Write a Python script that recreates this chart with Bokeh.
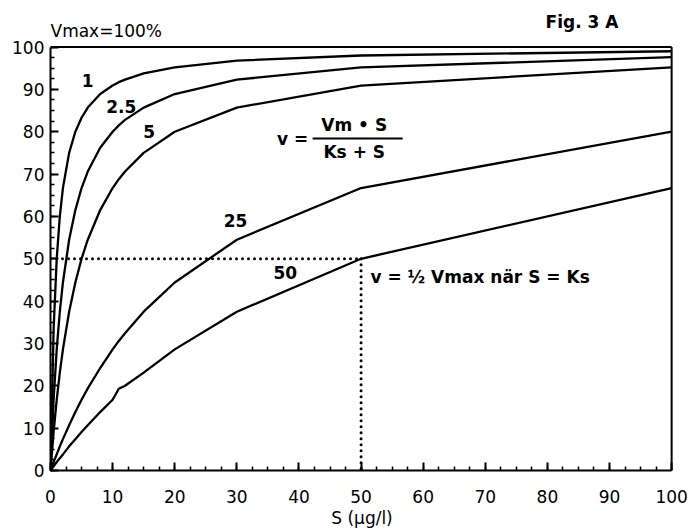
from bokeh.plotting import figure
from bokeh.models import Label, Range1d, FixedTicker
from bokeh.embed import file_html
from bokeh.resources import INLINE

# substrate concentration S (µg/l)
s_values = [0, 0.5, 1, 1.5, 2, 3, 4, 5, 6, 8, 10, 11, 12, 15, 20, 30, 50, 100]
# v (% of Vmax), one list per Ks
v_ks1 = [0, 33.3, 50.0, 60.0, 66.7, 75.0, 80.0, 83.3, 85.7, 88.9, 90.9, 91.7, 92.3, 93.8, 95.2, 96.8, 98.0, 99.0]
v_ks2_5 = [0, 16.7, 28.6, 37.5, 44.4, 54.5, 61.5, 66.7, 70.6, 76.2, 80.0, 81.5, 82.8, 85.7, 88.9, 92.3, 95.2, 97.6]
v_ks5 = [0, 9.1, 16.7, 23.1, 28.6, 37.5, 44.4, 50.0, 54.5, 61.5, 66.7, 68.8, 70.6, 75.0, 80.0, 85.7, 90.9, 95.2]
v_ks25 = [0, 2.0, 3.8, 5.7, 7.4, 10.7, 13.8, 16.7, 19.4, 24.2, 28.6, 30.6, 32.4, 37.5, 44.4, 54.5, 66.7, 80.0]
v_ks50 = [0, 1.0, 2.0, 2.9, 3.8, 5.7, 7.4, 9.1, 10.7, 13.8, 16.7, 19.3, 20.0, 23.1, 28.6, 37.5, 50.0, 66.7]

ks_labels = ["1", "2.5", "5", "25", "50"]
x_ticks = [0, 10, 20, 30, 40, 50, 60, 70, 80, 90, 100]
y_ticks = [0, 10, 20, 30, 40, 50, 60, 70, 80, 90, 100]
half_s = 50      # S = Ks for the Ks=50 curve
half_v = 50      # v = 1/2 Vmax

X_MIN, X_MAX = 0, 100
Y_MIN, Y_MAX = 0, 100

FONT = "DejaVu Sans"
INK = "black"

p = figure(width=690, height=531, output_backend="svg", toolbar_location=None,
           x_range=Range1d(X_MIN, X_MAX + 0.3), y_range=Range1d(Y_MIN, 109.1),
           min_border_left=50, min_border_right=17, min_border_top=8, min_border_bottom=61)
p.background_fill_color = "white"
p.border_fill_color = "white"
p.outline_line_color = None
p.xgrid.visible = False
p.ygrid.visible = False

for ax in (p.xaxis[0], p.yaxis[0]):
    ax.axis_line_color = INK
    ax.axis_line_width = 2
    ax.major_tick_line_color = INK
    ax.major_tick_line_width = 2
    ax.minor_tick_line_color = INK
    ax.minor_tick_line_width = 1.5
    ax.major_tick_in = 8
    ax.major_tick_out = 0
    ax.minor_tick_in = 4
    ax.minor_tick_out = 0
    ax.major_label_text_font = FONT
    ax.major_label_text_font_size = "17px"
    ax.major_label_text_color = INK

p.xaxis.bounds = (X_MIN, X_MAX)
p.yaxis.bounds = (Y_MIN, Y_MAX)
p.xaxis.ticker = FixedTicker(ticks=x_ticks, minor_ticks=[i * 2.5 for i in range(41)])
p.yaxis.ticker = FixedTicker(ticks=y_ticks, minor_ticks=[i * 2.5 for i in range(41)])
p.xaxis.major_label_standoff = 19
p.yaxis.major_label_standoff = 6
p.xaxis.axis_label = "S (µg/l)"
p.xaxis.axis_label_text_font = FONT
p.xaxis.axis_label_text_font_size = "17px"
p.xaxis.axis_label_text_font_style = "normal"
p.xaxis.axis_label_text_color = INK
p.xaxis.axis_label_standoff = 2

# frame box (top and right sides)
p.line([X_MIN, X_MAX], [Y_MAX, Y_MAX], line_color=INK, line_width=2)
p.line([X_MAX, X_MAX], [Y_MIN, Y_MAX], line_color=INK, line_width=2)

for series in (v_ks1, v_ks2_5, v_ks5, v_ks25, v_ks50):
    p.line(s_values, series, line_color=INK, line_width=2.3, line_join="round")

# dotted half-saturation guides
p.line([0, half_s], [half_v, half_v], line_color=INK, line_width=3,
       line_dash="0 6", line_cap="round")
p.line([half_s, half_s], [half_v, 0], line_color=INK, line_width=3,
       line_dash="0 6", line_cap="round")

def label(x, y, text, bold=True, align="center"):
    p.add_layout(Label(x=x, y=y, text=text, text_font=FONT, text_font_size="17px",
                       text_font_style="bold" if bold else "normal", text_color=INK,
                       text_align=align, text_baseline="middle"))

# curve labels
label_pos = [(6.0, 92.1), (11.4, 86.0), (15.9, 80.1), (29.8, 59.1), (37.8, 46.8)]
for txt, (lx, ly) in zip(ks_labels, label_pos):
    label(lx, ly, txt)

# formula
label(39.0, 78.4, "v =")
label(48.9, 81.6, "Vm • S")
label(48.9, 75.3, "Ks + S")
p.line([42.2, 56.7], [78.4, 78.4], line_color=INK, line_width=2)

label(51.5, 45.7, "v = ½ Vmax när S = Ks", align="left")

# header texts
label(0, 103.7, "Vmax=100%", bold=False, align="left")
label(79.7, 105.9, "Fig. 3 A", align="left")

open("out.html", "w").write(file_html(p, INLINE))
